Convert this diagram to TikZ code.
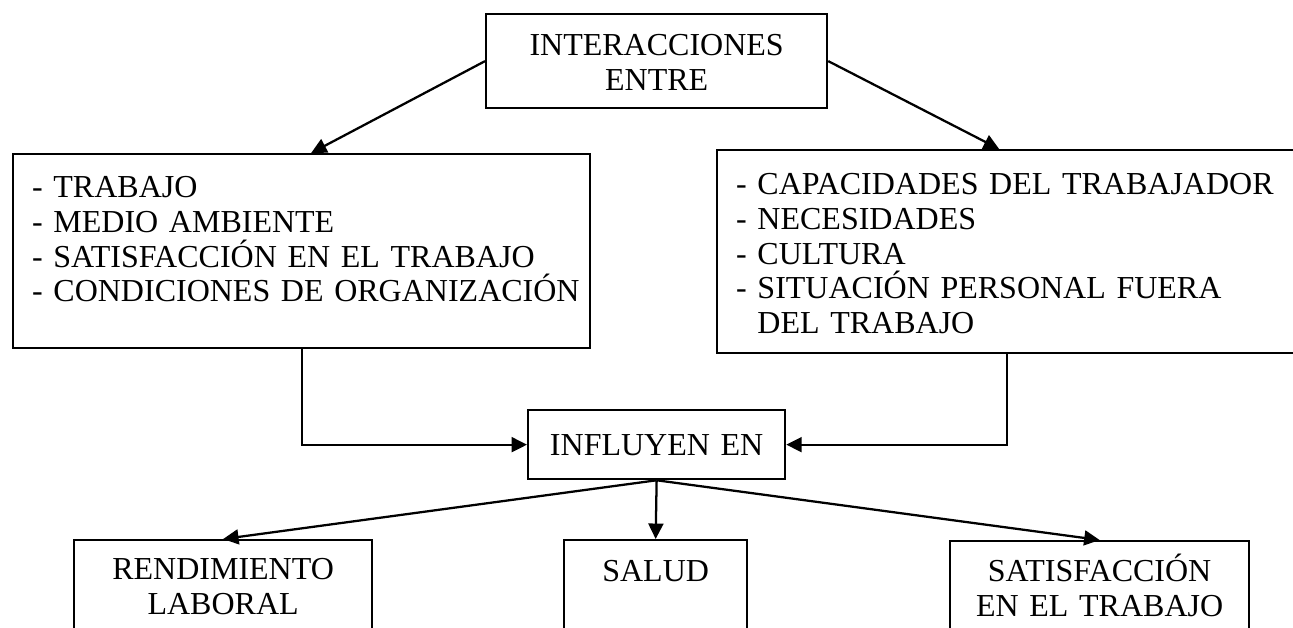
\documentclass[tikz,border=0pt]{standalone}
\usepackage{fontspec}
\setmainfont{Liberation Serif}
\usetikzlibrary{arrows.meta}

\newcommand{\pu}{0.375pt}

\begin{document}
\begin{tikzpicture}[
    x=\pu, y=-\pu,
    line width=0.85pt,
    >={Triangle[length=5.8pt,width=5.6pt]},
    box/.style={
      draw=black,
      anchor=north west,
      inner ysep=0pt,
      font=\fontsize{12pt}{13.1pt}\selectfont
    },
    listbox/.style={box, align=left, inner xsep=19*\pu},
    midbox/.style={box, align=center, inner xsep=0pt}
  ]
      \pgfmathsetmacro{\xmax}{1293};
      \pgfmathsetmacro{\ymax}{627};

      \useasboundingbox (0,0) rectangle (\xmax,\ymax);
      \clip (0,0) rectangle (\xmax,\ymax);

      \node[
      midbox,
      text width=341*\pu,
      text height=41.5*\pu,
      text depth=52.5*\pu
      ] (inter) at (485,13) {INTERACCIONES\\ENTRE};

      \node[
      listbox,
      text width=539*\pu,
      text height=43*\pu,
      text depth=151*\pu
      ] (trabajo) at (12,153) {- TRABAJO\\
        - MEDIO AMBIENTE\\
        - SATISFACCIÓN EN EL TRABAJO\\
        \mbox{- CONDICIONES DE ORGANIZACIÓN}};

      \node[
      listbox,
      text width=542*\pu,
      text height=44*\pu,
      text depth=159*\pu
      ] (persona) at (716,149) {- CAPACIDADES DEL TRABAJADOR\\
        - NECESIDADES\\
        - CULTURA\\
        - SITUACIÓN PERSONAL FUERA\\
        \hphantom{-\ }DEL TRABAJO};

      \node[
      midbox,
      text width=257*\pu,
      text height=45.5*\pu,
      text depth=23.5*\pu
      ] (influye) at (527,409) {INFLUYEN EN};

      % cajas de abajo, cortadas por el borde
      \node[
      midbox,
      text width=298*\pu,
      text height=39*\pu,
      text depth=91*\pu
      ] (rend) at (73,539) {RENDIMIENTO\\LABORAL};

      \node[
      midbox,
      text width=183*\pu,
      text height=41*\pu,
      text depth=89*\pu
      ] (salud) at (563,539) {SALUD};

      \node[
      midbox,
      text width=299*\pu,
      text height=40*\pu,
      text depth=90*\pu
      ] (satisf) at (949,540) {SATISFACCIÓN\\EN EL TRABAJO};

      \draw[->] (inter.west) -- ([xshift=9.5*\pu]trabajo.north);
      \draw[->] (inter.east) -- ([xshift=-8*\pu]persona.north);

      \draw[->] (trabajo.south) |- (influye.west);
      \draw[->] (persona.south) |- (influye.east);

      \draw[->] (influye.south) -- (rend.north);
      \draw[->] (influye.south) -- (salud.north);
      \draw[->] (influye.south) -- (satisf.north);
\end{tikzpicture}
\end{document}
